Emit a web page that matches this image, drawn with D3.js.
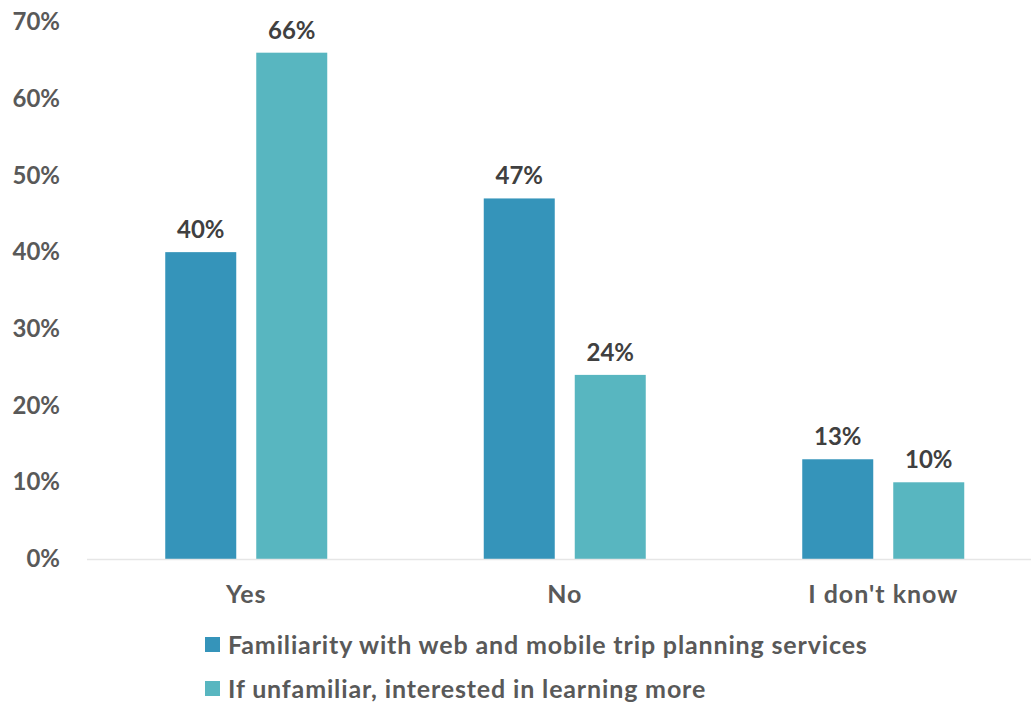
<!DOCTYPE html>
<html>
<head>
<meta charset="utf-8">
<script src="https://cdn.jsdelivr.net/npm/d3@7"></script>
<style>
  html, body { margin: 0; padding: 0; background: #fff; }
  svg { display: block; font-family: Lato, "Open Sans", sans-serif; font-weight: 700; }
</style>
</head>
<body>
<svg id="chart" width="1031" height="704"></svg>
<script>
// Survey answers and the two series
const categories = ["Yes", "No", "I don't know"];
const seriesNames = [
  "Familiarity with web and mobile trip planning services",
  "If unfamiliar, interested in learning more"
];
const familiarValues = [40, 47, 13];
const interestedValues = [66, 24, 10];
const yTicks = [0, 10, 20, 30, 40, 50, 60, 70];

const colors = ["#3594ba", "#58b6c0"];
const allSeries = [familiarValues, interestedValues];

const svg = d3.select("#chart");

const plotLeft = 87, plotRight = 1042.5, plotBottom = 559, plotTop = 22;

const x0 = d3.scaleBand().domain(categories).range([plotLeft, plotRight]).padding(0);
const groupWidth = 162;
const x1 = d3.scaleBand().domain(d3.range(seriesNames.length))
  .range([0, groupWidth]).paddingInner(2 - groupWidth / 91).paddingOuter(0);
const y = d3.scaleLinear().domain([0, 70]).range([plotBottom, plotTop]);

// Y axis labels (no line, no ticks)
const yAxis = d3.axisLeft(y).tickValues(yTicks).tickFormat(d => d + "%").tickSize(0).tickPadding(0);
const yg = svg.append("g").attr("transform", "translate(60,0)").call(yAxis);
yg.select(".domain").remove();
yg.selectAll("text")
  .attr("fill", "#595959")
  .style("font-size", "24px")
  .style("font-family", "Lato, 'Open Sans', sans-serif")
  .style("font-weight", 700);

// Bars
const groups = svg.append("g").selectAll("g")
  .data(categories)
  .join("g")
  .attr("transform", c => `translate(${x0(c) + (x0.bandwidth() - groupWidth) / 2},0)`);

groups.selectAll("rect")
  .data((c, i) => allSeries.map((s, k) => ({ k, v: s[i] })))
  .join("rect")
  .attr("x", d => x1(d.k))
  .attr("width", x1.bandwidth())
  .attr("y", d => y(d.v))
  .attr("height", d => y(0) - y(d.v))
  .attr("fill", d => colors[d.k]);

groups.selectAll("text.val")
  .data((c, i) => allSeries.map((s, k) => ({ k, v: s[i] })))
  .join("text")
  .attr("class", "val")
  .attr("x", d => x1(d.k) + x1.bandwidth() / 2)
  .attr("y", d => y(d.v) - 14)
  .attr("text-anchor", "middle")
  .attr("fill", "#404040")
  .style("font-size", "24px")
  .text(d => d.v + "%");

// Baseline
svg.append("line")
  .attr("x1", plotLeft).attr("x2", plotRight)
  .attr("y1", y(0) + 0.5).attr("y2", y(0) + 0.5)
  .attr("stroke", "#e6e6e6").attr("stroke-width", 1.5);

// Category axis
const xAxis = d3.axisBottom(x0).tickSize(0).tickPadding(0);
const xg = svg.append("g").attr("transform", "translate(0,603)").call(xAxis);
xg.select(".domain").remove();
xg.selectAll("text")
  .attr("fill", "#595959")
  .attr("dy", null)
  .attr("y", 0)
  .style("font-size", "25px")
  .style("letter-spacing", "1px")
  .style("font-family", "Lato, 'Open Sans', sans-serif")
  .style("font-weight", 700);

// Legend
const legend = svg.append("g");
const legendBaselines = [654, 698];
seriesNames.forEach((name, k) => {
  legend.append("rect")
    .attr("x", 205).attr("y", legendBaselines[k] - 17)
    .attr("width", 15).attr("height", 15)
    .attr("fill", colors[k]);
  legend.append("text")
    .attr("x", 228).attr("y", legendBaselines[k])
    .attr("fill", "#595959")
    .style("font-size", "25px")
    .style("letter-spacing", "0.85px")
    .text(name);
});
</script>
</body>
</html>
